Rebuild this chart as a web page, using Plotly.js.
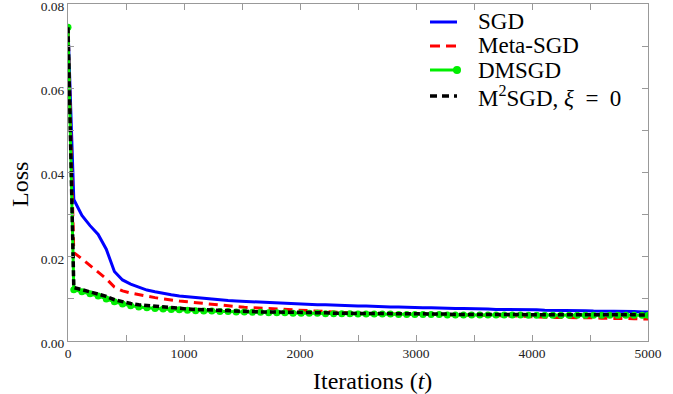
<!DOCTYPE html>
<html>
<head>
<meta charset="utf-8">
<script src="https://cdn.plot.ly/plotly-3.0.1.min.js"></script>
<style>html,body{margin:0;padding:0;background:#fff;}#chart{width:673px;height:394px;}</style>
</head>
<body>
<div id="chart"></div>
<script>
const iterations = [0, 50, 120, 190, 260, 330, 400, 470, 540, 610, 680, 750, 820, 890, 960, 1030, 1100, 1170, 1240, 1310, 1380, 1450, 1520, 1590, 1660, 1730, 1800, 1870, 1940, 2010, 2080, 2150, 2220, 2290, 2360, 2430, 2500, 2570, 2640, 2710, 2780, 2850, 2920, 2990, 3060, 3130, 3200, 3270, 3340, 3410, 3480, 3550, 3620, 3690, 3760, 3830, 3900, 3970, 4040, 4110, 4180, 4250, 4320, 4390, 4460, 4530, 4600, 4670, 4740, 4810, 4880, 4950, 5000];

const sgd = [0.0745, 0.0336, 0.0298, 0.0274, 0.0253, 0.0218, 0.0165, 0.0145, 0.0135, 0.0128, 0.0121, 0.0117, 0.0113, 0.0110, 0.0107, 0.0105, 0.0103, 0.0101, 0.0099, 0.0098, 0.0096, 0.0095, 0.0094, 0.0093, 0.0092, 0.0091, 0.0090, 0.0090, 0.0089, 0.0088, 0.0087, 0.0086, 0.0086, 0.0085, 0.0084, 0.0084, 0.0083, 0.0083, 0.0082, 0.0082, 0.0081, 0.0081, 0.0080, 0.0080, 0.0079, 0.0079, 0.0078, 0.0078, 0.0077, 0.0077, 0.0077, 0.0076, 0.0076, 0.0075, 0.0075, 0.0075, 0.0074, 0.0074, 0.0074, 0.0073, 0.0073, 0.0073, 0.0072, 0.0072, 0.0072, 0.0071, 0.0071, 0.0071, 0.0070, 0.0070, 0.0070, 0.0069, 0.0069];

const metaSgd = [0.0745, 0.0210, 0.0195, 0.0180, 0.0165, 0.0148, 0.0128, 0.0119, 0.0114, 0.0110, 0.0106, 0.0103, 0.0100, 0.0097, 0.0095, 0.0093, 0.0091, 0.0089, 0.0087, 0.0085, 0.0083, 0.0082, 0.0080, 0.0079, 0.0078, 0.0076, 0.0075, 0.0074, 0.0073, 0.0072, 0.0071, 0.0070, 0.0069, 0.0068, 0.0067, 0.0066, 0.0066, 0.0065, 0.0065, 0.0064, 0.0064, 0.0064, 0.0064, 0.0063, 0.0063, 0.0063, 0.0063, 0.0062, 0.0062, 0.0062, 0.0062, 0.0061, 0.0061, 0.0060, 0.0060, 0.0059, 0.0059, 0.0058, 0.0057, 0.0057, 0.0056, 0.0056, 0.0056, 0.0055, 0.0055, 0.0055, 0.0054, 0.0054, 0.0054, 0.0053, 0.0053, 0.0052, 0.0052];

const dmsgd = [0.0745, 0.0122, 0.0117, 0.0112, 0.0107, 0.0100, 0.0093, 0.0088, 0.0084, 0.0081, 0.0079, 0.0077, 0.0076, 0.0075, 0.0074, 0.0073, 0.0072, 0.0071, 0.0071, 0.0070, 0.0070, 0.0069, 0.0069, 0.0068, 0.0068, 0.0067, 0.0067, 0.0067, 0.0066, 0.0066, 0.0066, 0.0066, 0.0065, 0.0065, 0.0065, 0.0065, 0.0064, 0.0064, 0.0064, 0.0064, 0.0064, 0.0063, 0.0063, 0.0063, 0.0063, 0.0063, 0.0063, 0.0062, 0.0062, 0.0062, 0.0062, 0.0062, 0.0062, 0.0062, 0.0062, 0.0062, 0.0062, 0.0061, 0.0061, 0.0061, 0.0061, 0.0061, 0.0061, 0.0061, 0.0061, 0.0061, 0.0061, 0.0061, 0.0061, 0.0061, 0.0061, 0.0061, 0.0061];

const m2sgd = [0.0745, 0.0127, 0.0122, 0.0117, 0.0112, 0.0106, 0.0098, 0.0093, 0.0089, 0.0086, 0.0084, 0.0082, 0.0080, 0.0078, 0.0077, 0.0076, 0.0075, 0.0074, 0.0073, 0.0072, 0.0072, 0.0071, 0.0070, 0.0070, 0.0069, 0.0069, 0.0069, 0.0068, 0.0068, 0.0068, 0.0067, 0.0067, 0.0067, 0.0066, 0.0066, 0.0066, 0.0066, 0.0065, 0.0065, 0.0065, 0.0065, 0.0065, 0.0064, 0.0064, 0.0064, 0.0064, 0.0064, 0.0064, 0.0063, 0.0063, 0.0063, 0.0063, 0.0063, 0.0063, 0.0063, 0.0063, 0.0062, 0.0062, 0.0062, 0.0062, 0.0062, 0.0062, 0.0062, 0.0062, 0.0062, 0.0062, 0.0062, 0.0062, 0.0062, 0.0062, 0.0062, 0.0062, 0.0062];

const seriesNames = ['SGD', 'Meta-SGD', 'DMSGD', 'M<sup>2</sup>SGD, <i>ξ</i>\u00a0\u00a0=\u00a0\u00a00'];
const xTickVals = [0, 1000, 2000, 3000, 4000, 5000];
const yTickVals = [0, 0.02, 0.04, 0.06, 0.08];
const xTitle = 'Iterations (<i>t</i>)';
const yTitle = 'Loss';

const serif = 'Liberation Serif, Times New Roman, serif';

const styles = [
  {mode: 'lines', line: {color: '#0000ff', width: 3}},
  {mode: 'lines', line: {color: '#ff0000', width: 3, dash: '9px,6px'}},
  {mode: 'lines+markers', line: {color: '#00ee00', width: 3}, marker: {color: '#00ee00', size: 7}},
  {mode: 'lines', line: {color: '#000000', width: 3.5, dash: '6px,3px'}}
];
const seriesData = [sgd, metaSgd, dmsgd, m2sgd];

const traces = seriesData.map((ys, i) => Object.assign({x: iterations, y: ys, name: seriesNames[i], showlegend: false}, styles[i]));

// plot-area geometry (pixels) used to place the hand-built legend and titles
const W = 673, H = 394, L = 68, R = 25, T = 4, B = 53;
const pw = W - L - R, ph = H - T - B;
const px = v => (v - L) / pw;
const py = v => (H - B - v) / ph;

const shapes = [];
const annotations = [];
const rowY = [22, 46, 70, 96];
const lineX0 = 430, lineX1 = 457, textX = 476;
rowY.forEach((yy, i) => {
  const st = styles[i];
  shapes.push({type: 'line', xref: 'paper', yref: 'paper', x0: px(lineX0), x1: px(lineX1), y0: py(yy), y1: py(yy),
               line: {color: st.line.color, width: st.line.width, dash: i === 1 ? '10px,6px' : (i === 3 ? '7px,5px' : 'solid')}});
  if (st.marker) {
    shapes.push({type: 'circle', xref: 'paper', yref: 'paper', x0: px(lineX1 - 4), x1: px(lineX1 + 4), y0: py(yy + 4), y1: py(yy - 4),
                 fillcolor: st.marker.color, line: {color: st.marker.color, width: 0}});
  }
  annotations.push({xref: 'paper', yref: 'paper', x: px(textX), y: py(yy), xanchor: 'left', yanchor: 'middle',
                    text: seriesNames[i], showarrow: false, font: {family: serif, size: 23, color: '#000'}});
});
annotations.push({xref: 'paper', yref: 'paper', x: px(372), y: py(381), xanchor: 'center', yanchor: 'middle',
                  text: xTitle, showarrow: false, font: {family: serif, size: 24, color: '#000'}});
annotations.push({xref: 'paper', yref: 'paper', x: px(20), y: py(185), xanchor: 'center', yanchor: 'middle', textangle: -90,
                  text: yTitle, showarrow: false, font: {family: serif, size: 24, color: '#000'}});

const axisCommon = {
  showgrid: false, zeroline: false, automargin: false,
  showline: true, linecolor: '#999', linewidth: 1, mirror: 'ticks',
  ticks: 'inside', ticklen: 6, tickcolor: '#999', tickwidth: 1,
  ticklabeloverflow: 'allow',
  tickfont: {family: serif, size: 13.5, color: '#222'}
};

const layout = {
  width: W, height: H,
  margin: {l: L, r: R, t: T, b: B},
  paper_bgcolor: '#fff', plot_bgcolor: '#fff',
  showlegend: false,
  shapes: shapes,
  annotations: annotations,
  xaxis: Object.assign({}, axisCommon, {
    range: [0, 5000], tickvals: xTickVals, ticktext: xTickVals.map(String),
    minor: {dtick: 500, ticks: 'inside', ticklen: 6, tickcolor: '#999', showgrid: false}
  }),
  yaxis: Object.assign({}, axisCommon, {
    range: [0, 0.08004], tickvals: yTickVals, ticktext: yTickVals.map(v => v.toFixed(2)),
    ticklabelshift: 2,
    minor: {dtick: 0.01, ticks: 'inside', ticklen: 6, tickcolor: '#999', showgrid: false}
  })
};

Plotly.newPlot('chart', traces, layout, {displayModeBar: false, staticPlot: true});
</script>
</body>
</html>
